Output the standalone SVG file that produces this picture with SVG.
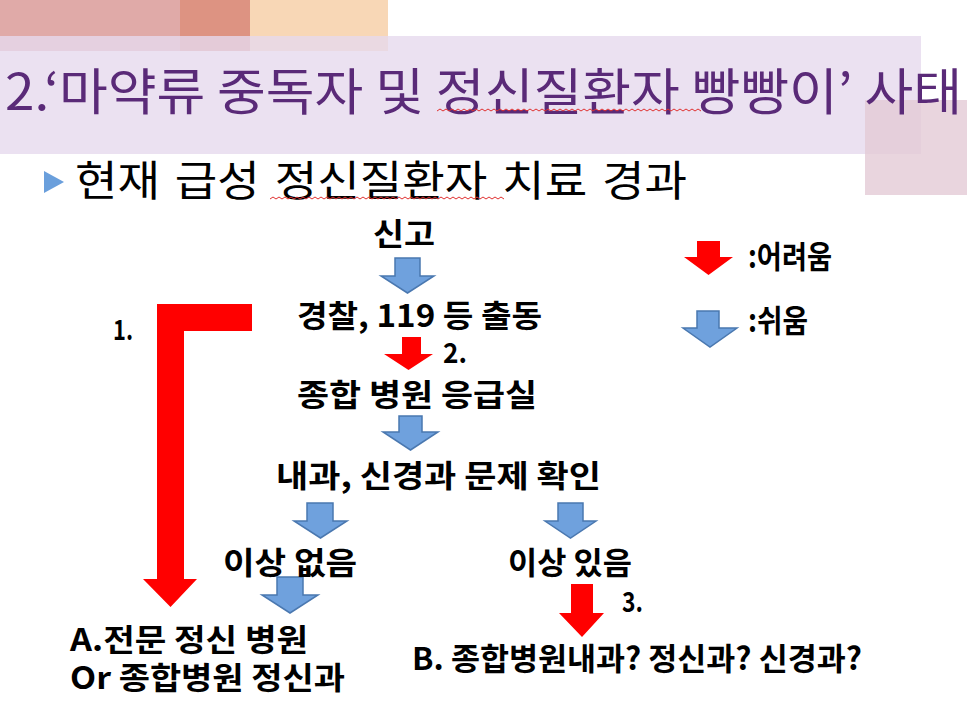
<svg xmlns="http://www.w3.org/2000/svg" width="967" height="707" viewBox="0 0 967 707">
<style>
.d{font-family:"Noto Sans CJK KR","Noto Sans",sans-serif;font-weight:bold;font-size:31px;fill:#000}
.s{font-size:28px}
.blue{fill:#6fa1dd;stroke:#4a78b0;stroke-width:1.5;stroke-linejoin:miter}
.red{fill:#ff0000}
.wave{fill:none;stroke:#e03030;stroke-width:1}
</style>
<rect width="967" height="707" fill="#fff"/>
<g id="decor">
<rect x="0" y="0" width="180" height="51" fill="#e0aaa8"/>
<rect x="180" y="0" width="70" height="51" fill="#dd9382"/>
<rect x="250" y="0" width="138" height="51" fill="#f8d7b6"/>
<rect x="0" y="36" width="921" height="118" fill="#e6d9ee" fill-opacity="0.8"/>
<rect x="865" y="100" width="102" height="95" fill="#e4cad6" fill-opacity="0.8"/>
</g>
<g id="title">
<text x="5" y="110" font-family="'Noto Sans CJK KR',sans-serif" font-size="50" fill="#5a2a78" textLength="957" lengthAdjust="spacingAndGlyphs">2.‘마약류 중독자 및 정신질환자 빵빵이’ 사태</text>
<path class="wave" d="M437,111 l3,-2 l3,2 l3,-2 l3,2 l3,-2 l3,2 l3,-2 l3,2 l3,-2 l3,2 l3,-2 l3,2 l3,-2 l3,2 l3,-2 l3,2 l3,-2 l3,2 l3,-2 l3,2 l3,-2 l3,2 l3,-2 l3,2 l3,-2 l3,2 l3,-2 l3,2 l3,-2 l3,2 l3,-2 l3,2 l3,-2 l3,2 l3,-2 l3,2 l3,-2 l3,2 l3,-2 l3,2 l3,-2 l3,2 l3,-2 l3,2 l3,-2 l3,2 l3,-2 l3,2 l3,-2 l3,2 l3,-2 l3,2 l3,-2 l3,2 l3,-2 l3,2 l3,-2 l3,2 l3,-2 l3,2 l3,-2 l3,2 l3,-2 l3,2 l3,-2 l3,2 l3,-2 l3,2 l3,-2 l3,2 l3,-2 l3,2 l3,-2 l3,2 l3,-2 l3,2 l3,-2 l3,2 l3,-2 l3,2 l3,-2 l3,2 l3,-2 l3,2 l3,-2 l3,2 l3,-2 l3,2"/>
</g>
<g id="subtitle">
<polygon points="44,171 64,182 44,193" fill="#6a9fdc"/>
<text x="75" y="196" font-family="'Noto Sans CJK KR',sans-serif" font-size="42" word-spacing="4" fill="#000" textLength="612" lengthAdjust="spacingAndGlyphs">현재 급성 정신질환자 치료 경과</text>
<path class="wave" d="M270,199 l3,-2 l3,2 l3,-2 l3,2 l3,-2 l3,2 l3,-2 l3,2 l3,-2 l3,2 l3,-2 l3,2 l3,-2 l3,2 l3,-2 l3,2 l3,-2 l3,2 l3,-2 l3,2 l3,-2 l3,2 l3,-2 l3,2 l3,-2 l3,2 l3,-2 l3,2 l3,-2 l3,2 l3,-2 l3,2 l3,-2 l3,2 l3,-2 l3,2 l3,-2 l3,2 l3,-2 l3,2 l3,-2 l3,2 l3,-2 l3,2 l3,-2 l3,2 l3,-2 l3,2 l3,-2 l3,2 l3,-2 l3,2 l3,-2 l3,2 l3,-2 l3,2 l3,-2 l3,2 l3,-2 l3,2 l3,-2 l3,2 l3,-2 l3,2 l3,-2 l3,2 l3,-2 l3,2 l3,-2 l3,2 l3,-2 l3,2 l3,-2 l3,2 l3,-2 l3,2 l3,-2 l3,2"/>
</g>
<g id="connectors">
<polygon class="blue" points="395,258 420,258 420,276 434,276 407.5,293 381,276 395,276"/>
<polygon class="red" points="402,337 421,337 421,354 433,354 408.5,370 384,354 402,354"/>
<polygon class="blue" points="399,416 422,416 422,432 438,432 410.5,450 383,432 399,432"/>
<polygon class="blue" points="307,503 333,503 333,521 347,521 320.5,538 294,521 307,521"/>
<polygon class="blue" points="558,503 583,503 583,521 596,521 570.5,538 545,521 558,521"/>
<polygon class="blue" points="277,577 303,577 303,595 318,595 290,613 262,595 277,595"/>
<polygon class="red" points="571,584 593,584 593,613 604,613 582,637 559,613 571,613"/>
<polygon class="red" points="157,304 252,304 252,331 184,331 184,579 197,579 170.5,607 143,579 157,579"/>
</g>
<g id="legend">
<polygon class="red" points="697,241 720,241 720,257 733,257 708.5,275 684,257 697,257"/>
<text class="d" x="748" y="268" font-size="24" textLength="84" lengthAdjust="spacingAndGlyphs">:어려움</text>
<polygon class="blue" points="697,311 719,311 719,328 737,328 710,347 683,328 697,328"/>
<text class="d" x="748" y="332" font-size="24" textLength="60" lengthAdjust="spacingAndGlyphs">:쉬움</text>
</g>
<g id="n-report"><text class="d" x="373" y="245" textLength="62" lengthAdjust="spacingAndGlyphs">신고</text></g>
<g id="n-dispatch"><text class="d" x="297" y="327" textLength="245" lengthAdjust="spacingAndGlyphs">경찰, 119 등 출동</text></g>
<g id="n-er"><text class="d" x="297" y="406" textLength="240" lengthAdjust="spacingAndGlyphs">종합 병원 응급실</text></g>
<g id="n-check"><text class="d" x="276" y="487" textLength="325" lengthAdjust="spacingAndGlyphs">내과, 신경과 문제 확인</text></g>
<g id="n-normal"><text class="d" x="223" y="574" textLength="134" lengthAdjust="spacingAndGlyphs">이상 없음</text></g>
<g id="n-abnormal"><text class="d" x="508" y="574" textLength="124" lengthAdjust="spacingAndGlyphs">이상 있음</text></g>
<g id="n-A">
<text class="d" x="70" y="651" font-size="30" textLength="238" lengthAdjust="spacingAndGlyphs">A.전문 정신 병원</text>
<text class="d" x="70" y="689" font-size="30" textLength="275" lengthAdjust="spacingAndGlyphs">Or 종합병원 정신과</text>
</g>
<g id="n-B"><text class="d" x="412" y="670" textLength="450" lengthAdjust="spacingAndGlyphs">B. 종합병원내과? 정신과? 신경과?</text></g>
<g id="labels">
<text class="d s" x="113" y="340" textLength="20" lengthAdjust="spacingAndGlyphs">1.</text>
<text class="d s" x="443" y="363" textLength="24" lengthAdjust="spacingAndGlyphs">2.</text>
<text class="d s" x="622" y="612" textLength="21" lengthAdjust="spacingAndGlyphs">3.</text>
</g>
</svg>
